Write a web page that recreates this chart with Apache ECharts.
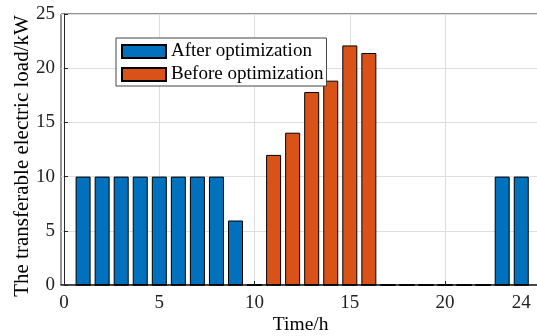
<!DOCTYPE html>
<html>
<head>
<meta charset="utf-8">
<script src="https://cdn.jsdelivr.net/npm/echarts@6/dist/echarts.min.js"></script>
<style>
html,body{margin:0;padding:0;background:#fff;}
#c{width:537px;height:336px;}
</style>
</head>
<body>
<div id="c"></div>
<script>
const hours = [1,2,3,4,5,6,7,8,9,10,11,12,13,14,15,16,17,18,19,20,21,22,23,24];
const afterOpt = [10,10,10,10,10,10,10,10,5.95,0,0,0,0,0,0,0,0,0,0,0,0,0,10,10];
const beforeOpt = [0,0,0,0,0,0,0,0,0,0,12.0,14.05,17.8,18.85,22.1,21.4,0,0,0,0,0,0,0,0];
const xTickValues = [0,5,10,15,20];
const xLabelValues = [0,5,10,15,20,24];
const seriesNames = ['After optimization','Before optimization'];

const font = "'Liberation Serif','Times New Roman',serif";
const chart = echarts.init(document.getElementById('c'), null, {renderer:'canvas'});
const axisColor = '#262626';
const gridColor = '#dedede';

chart.setOption({
  animation: false,
  backgroundColor: '#fff',
  textStyle: {fontFamily: font},
  grid: {left: 61, top: 14, right: -3.3, bottom: 51, outerBoundsMode: 'none', containLabel: false,
         show: true, borderColor: axisColor, borderWidth: 1, backgroundColor: '#fff'},
  legend: {
    orient: 'vertical', left: 116, top: 38,
    padding: [4, 3, 2, 5],
    icon: 'rect',
    itemWidth: 44, itemHeight: 13, itemGap: 4,
    borderColor: '#444', borderWidth: 1, backgroundColor: '#fff',
    textStyle: {fontFamily: font, fontSize: 19, color: '#000'},
    data: seriesNames
  },
  xAxis: {
    type: 'value', min: -0.16, max: 25,
    name: 'Time/h', nameLocation: 'middle', nameGap: 30, nameMoveOverlap: false,
    nameTextStyle: {fontFamily: font, fontSize: 19.5, color: '#000'},
    axisLine: {show: true, onZero: false, lineStyle: {color: axisColor, width: 1.5}},
    axisTick: {show: true, inside: true, length: 4, customValues: xTickValues, lineStyle: {color: axisColor}},
    axisLabel: {customValues: xLabelValues, fontFamily: font, fontSize: 19, color: '#222', margin: 9},
    splitLine: {show: true, lineStyle: {color: gridColor, width: 1}}
  },
  yAxis: {
    type: 'value', min: 0, max: 25, interval: 5,
    name: 'The transferable electric load/kW', nameLocation: 'middle', nameGap: 28, nameMoveOverlap: false,
    nameTextStyle: {fontFamily: font, fontSize: 21, color: '#000', padding: [0, 13, 0, 0]},
    axisLine: {show: true, lineStyle: {color: axisColor, width: 1}},
    axisTick: {show: true, inside: true, length: 4, lineStyle: {color: axisColor}},
    axisLabel: {fontFamily: font, fontSize: 19, color: '#222', margin: 6},
    splitLine: {show: true, lineStyle: {color: gridColor, width: 1}}
  },
  series: [
    {
      name: seriesNames[0], type: 'bar', barWidth: 15, barGap: '-100%',
      itemStyle: {color: '#0072BD', borderColor: '#000', borderWidth: 1},
      data: hours.map((h, i) => [h, afterOpt[i]])
    },
    {
      name: seriesNames[1], type: 'bar', barWidth: 15, barGap: '-100%',
      itemStyle: {color: '#D95319', borderColor: '#000', borderWidth: 1},
      data: hours.map((h, i) => [h, beforeOpt[i]])
    }
  ]
});
</script>
</body>
</html>
